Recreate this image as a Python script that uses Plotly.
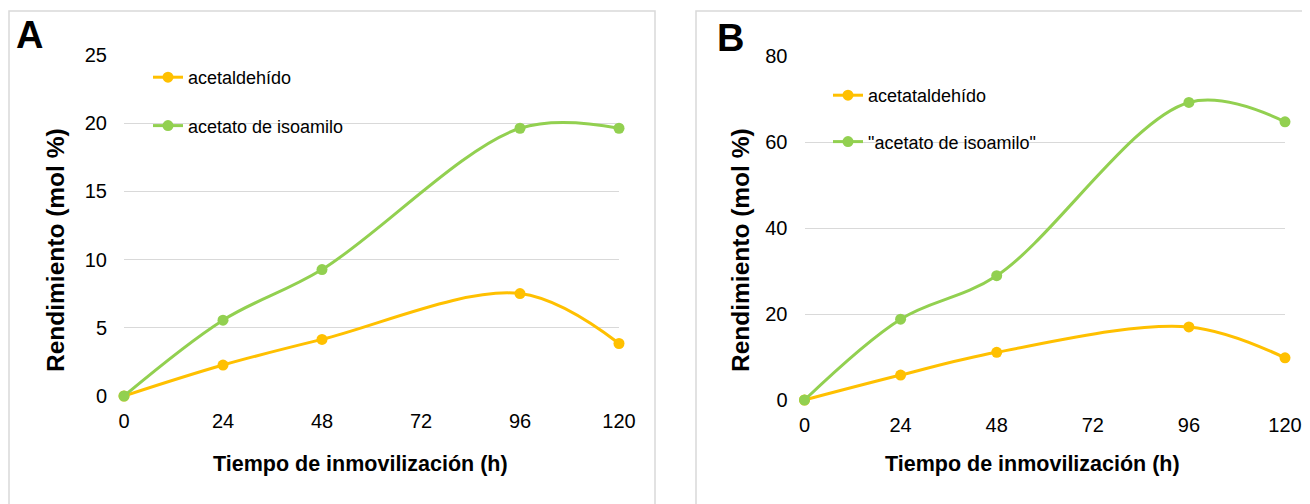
import plotly.graph_objects as go

# ---- data ----
hours = [0, 24, 48, 96, 120]
x_ticks = [0, 24, 48, 72, 96, 120]

a_acetaldehido = [0, 2.27, 4.15, 7.51, 3.85]
a_acetato = [0, 5.56, 9.27, 19.63, 19.63]

b_acetataldehido = [0, 5.8, 11.1, 17.0, 9.8]
b_acetato = [0, 18.8, 28.9, 69.2, 64.7]

names_a = ["acetaldehído", "acetato de isoamilo"]
names_b = ["acetataldehído", "\"acetato de isoamilo\""]

ORANGE = "#FFC000"
GREEN = "#92D050"
GRID = "#D9D9D9"
FONT = "Liberation Sans, Arial, sans-serif"

# the page body has a default 8px margin; compensate so page pixels match
OFF = 8
W, H = 1310 - OFF, 504 - OFF


def px(x):
    return (x - OFF) / W


def py(y):
    return 1 - (y - OFF) / H


fig = go.Figure()


def add_series(x, y, name, color, xa, ya, legend, group):
    fig.add_trace(go.Scatter(
        x=x, y=y, name=name, mode="lines+markers",
        line=dict(color=color, width=3, shape="spline", smoothing=1.0),
        marker=dict(color=color, size=11),
        xaxis=xa, yaxis=ya, legend=legend, legendgroup=group,
        cliponaxis=False,
    ))


add_series(hours, a_acetaldehido, names_a[0], ORANGE, "x", "y", "legend", "a1")
add_series(hours, a_acetato, names_a[1], GREEN, "x", "y", "legend", "a2")
add_series(hours, b_acetataldehido, names_b[0], ORANGE, "x2", "y2", "legend2", "b1")
add_series(hours, b_acetato, names_b[1], GREEN, "x2", "y2", "legend2", "b2")

tickfont = dict(family=FONT, size=20, color="#000000")

xcommon = dict(range=[0, 120], tickvals=x_ticks, showgrid=False, zeroline=False,
               showline=False, ticks="outside", ticklen=7, tickcolor="rgba(0,0,0,0)",
               tickfont=tickfont, fixedrange=True, automargin=False)
ycommon = dict(showgrid=True, gridcolor=GRID, gridwidth=1, zeroline=False,
               showline=False, ticks="outside", ticklen=12, tickcolor="rgba(0,0,0,0)",
               tickfont=tickfont, fixedrange=True, automargin=False)

legend_common = dict(font=dict(family=FONT, size=18, color="#000000"),
                     bgcolor="rgba(0,0,0,0)", borderwidth=0,
                     traceorder="grouped",
                     xanchor="left", yanchor="top")

fig.update_layout(
    width=W, height=H,
    margin=dict(l=0, r=0, t=0, b=0, autoexpand=False),
    paper_bgcolor="white", plot_bgcolor="white",
    showlegend=True,
    xaxis=dict(domain=[px(124), px(619)], anchor="y", **xcommon),
    yaxis=dict(domain=[py(396), py(55)], anchor="x", range=[0, 25], dtick=5, **ycommon),
    xaxis2=dict(domain=[px(804.5), px(1285)], anchor="y2", **xcommon),
    yaxis2=dict(domain=[py(400), py(56)], anchor="x2", range=[0, 80], dtick=20, **ycommon),
    legend=dict(x=px(148), y=py(59), tracegroupgap=22, **legend_common),
    legend2=dict(x=px(828), y=py(77), tracegroupgap=20, **legend_common),
    shapes=[
        dict(type="rect", xref="paper", yref="paper", x0=px(9), x1=px(655),
             y0=-0.1, y1=py(11), line=dict(color=GRID, width=1.5), fillcolor="rgba(0,0,0,0)",
             layer="below"),
        dict(type="rect", xref="paper", yref="paper", x0=px(696), x1=px(1305),
             y0=-0.1, y1=py(11), line=dict(color=GRID, width=1.5), fillcolor="rgba(0,0,0,0)",
             layer="below"),
    ],
)

ann_title = dict(family=FONT, size=21.5, color="#000000")
ann_ytitle = dict(family=FONT, size=24.5, color="#000000")
annotations = [
    dict(text="<b>A</b>", x=px(14), y=py(12), xanchor="left", yanchor="top",
         font=dict(family=FONT, size=38, color="#000000")),
    dict(text="<b>B</b>", x=px(715), y=py(15), xanchor="left", yanchor="top",
         font=dict(family=FONT, size=38, color="#000000")),
    dict(text="<b>Tiempo de inmovilización (h)</b>", x=px(360), y=py(464),
         xanchor="center", yanchor="middle", font=ann_title),
    dict(text="<b>Tiempo de inmovilización (h)</b>", x=px(1032), y=py(464),
         xanchor="center", yanchor="middle", font=ann_title),
    dict(text="<b>Rendimiento (mol %)</b>", x=px(55), y=py(250), textangle=-90,
         xanchor="center", yanchor="middle", font=ann_ytitle),
    dict(text="<b>Rendimiento (mol %)</b>", x=px(740), y=py(250), textangle=-90,
         xanchor="center", yanchor="middle", font=ann_ytitle),
]
for a in annotations:
    a.update(xref="paper", yref="paper", showarrow=False)
fig.update_layout(annotations=annotations)

fig.write_html("out.html")
